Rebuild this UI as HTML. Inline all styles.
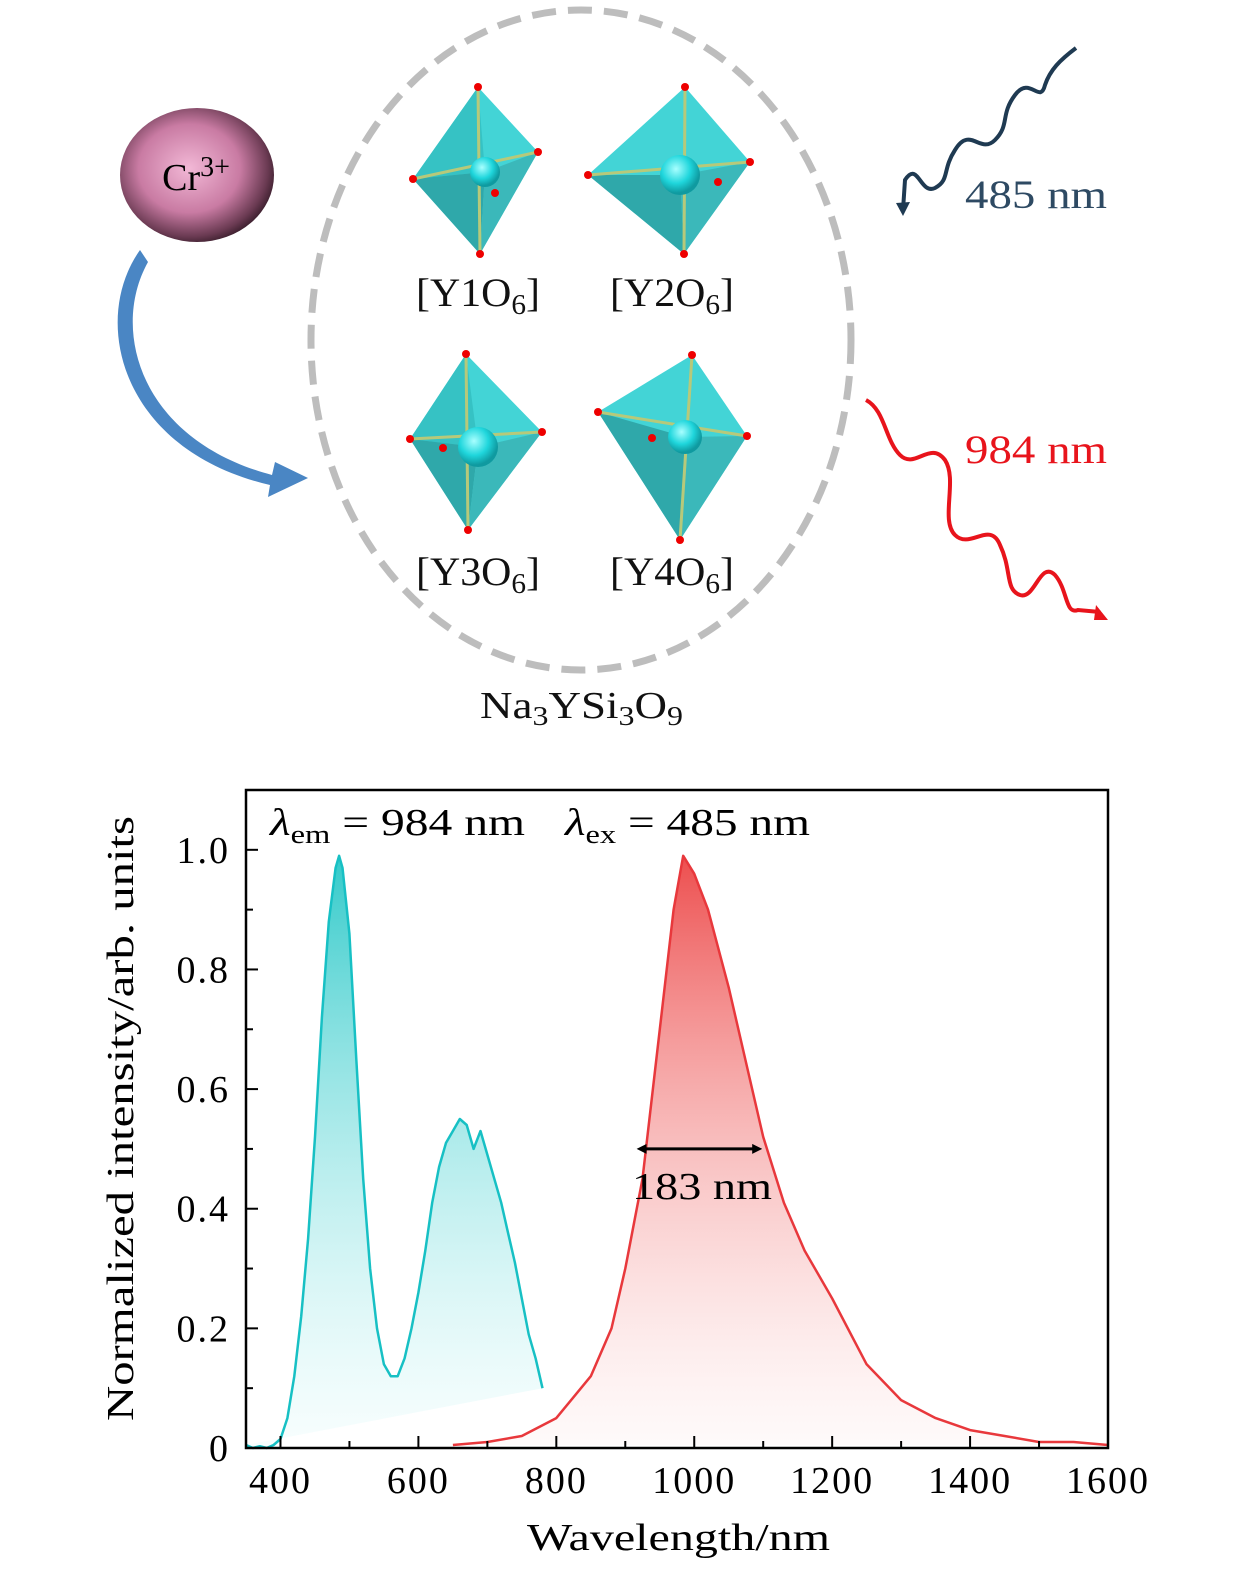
<!DOCTYPE html>
<html><head><meta charset="utf-8"><style>
body{margin:0;background:#fff;}
svg{display:block;font-family:"Liberation Serif",serif;}
</style></head><body>
<svg width="1260" height="1575" viewBox="0 0 1260 1575">
<defs>
<radialGradient id="pink" cx="0.45" cy="0.45" r="0.6">
<stop offset="0" stop-color="#f2b8d6"/><stop offset="0.55" stop-color="#c97ba3"/><stop offset="0.85" stop-color="#6a3a52"/><stop offset="1" stop-color="#2a1520"/></radialGradient>
<radialGradient id="ball" cx="0.4" cy="0.35" r="0.6"><stop offset="0" stop-color="#a8ffff"/><stop offset="0.6" stop-color="#1fd6dc"/><stop offset="1" stop-color="#0f9aa0"/></radialGradient>
<linearGradient id="cyanFill" x1="0" y1="0" x2="0" y2="1"><stop offset="0" stop-color="#1cc4c4" stop-opacity="0.9"/><stop offset="1" stop-color="#e6fbfb" stop-opacity="0.3"/></linearGradient>
<linearGradient id="redFill" x1="0" y1="0" x2="0" y2="1"><stop offset="0" stop-color="#ec4545" stop-opacity="0.95"/><stop offset="1" stop-color="#fdeeee" stop-opacity="0.3"/></linearGradient>
<marker id="ah" markerWidth="10" markerHeight="10" refX="5" refY="5" orient="auto-start-reverse" markerUnits="userSpaceOnUse"><path d="M0,0 L10,5 L0,10 z" fill="#000"/></marker>
</defs>

<g>
<ellipse cx="581" cy="340" rx="270" ry="330" fill="none" stroke="#bdbdbd" stroke-width="7" stroke-dasharray="24 12"/>
<ellipse cx="197" cy="175" rx="77" ry="67" fill="url(#pink)"/>
<text x="196" y="190" font-size="38" text-anchor="middle">Cr<tspan dy="-14" font-size="28">3+</tspan></text>
<path d="M140,250 C90,320 120,450 270,485 L268,497 L308,478 L275,462 L272,475 C140,440 110,330 148,262 Z" fill="#4a86c4"/>
<g>
<g><polygon points="478,87 413,179 480,254 538,152" fill="#43d4d6"/><polygon points="478,87 413,179 485,172" fill="#36c2c4"/><polygon points="413,179 480,254 485,172" fill="#2fa8aa"/><polygon points="480,254 538,152 485,172" fill="#3bb8ba"/>
<g stroke="#b7c97a" stroke-width="3"><line x1="478" y1="87" x2="480" y2="254"/><line x1="413" y1="179" x2="538" y2="152"/></g><circle cx="485" cy="172" r="15" fill="url(#ball)"/>
<g fill="#e00"><circle cx="478" cy="87" r="4"/><circle cx="413" cy="179" r="4"/><circle cx="480" cy="254" r="4"/><circle cx="538" cy="152" r="4"/><circle cx="495" cy="193" r="4"/></g></g>
<g><polygon points="685,87 588,175 684,254 750,162" fill="#43d4d6"/><polygon points="588,175 684,254 680,175" fill="#2fa8aa"/><polygon points="684,254 750,162 680,175" fill="#3bb8ba"/>
<g stroke="#b7c97a" stroke-width="3"><line x1="685" y1="87" x2="684" y2="254"/><line x1="588" y1="175" x2="750" y2="162"/></g><circle cx="680" cy="175" r="20" fill="url(#ball)"/>
<g fill="#e00"><circle cx="685" cy="87" r="4"/><circle cx="588" cy="175" r="4"/><circle cx="684" cy="254" r="4"/><circle cx="750" cy="162" r="4"/><circle cx="718" cy="182" r="4"/></g></g>
<g><polygon points="466,354 410,439 468,530 542,432" fill="#43d4d6"/><polygon points="466,354 410,439 478,447" fill="#36c2c4"/><polygon points="410,439 468,530 478,447" fill="#2fa8aa"/><polygon points="468,530 542,432 478,447" fill="#3bb8ba"/>
<g stroke="#b7c97a" stroke-width="3"><line x1="466" y1="354" x2="468" y2="530"/><line x1="410" y1="439" x2="542" y2="432"/></g><circle cx="478" cy="447" r="20" fill="url(#ball)"/>
<g fill="#e00"><circle cx="466" cy="354" r="4"/><circle cx="410" cy="439" r="4"/><circle cx="468" cy="530" r="4"/><circle cx="542" cy="432" r="4"/><circle cx="443" cy="448" r="4"/></g></g>
<g><polygon points="692,355 598,412 680,540 747,436" fill="#43d4d6"/><polygon points="598,412 680,540 685,437" fill="#2fa8aa"/><polygon points="680,540 747,436 685,437" fill="#3bb8ba"/>
<g stroke="#b7c97a" stroke-width="3"><line x1="692" y1="355" x2="680" y2="540"/><line x1="598" y1="412" x2="747" y2="436"/></g><circle cx="685" cy="437" r="17" fill="url(#ball)"/>
<g fill="#e00"><circle cx="692" cy="355" r="4"/><circle cx="598" cy="412" r="4"/><circle cx="680" cy="540" r="4"/><circle cx="747" cy="436" r="4"/><circle cx="652" cy="438" r="4"/></g></g>
</g>
<g font-size="40" fill="#111">
<text x="416" y="306" textLength="124" lengthAdjust="spacingAndGlyphs">[Y1O<tspan font-size="28" dy="8">6</tspan><tspan dy="-8">]</tspan></text>
<text x="610" y="306" textLength="124" lengthAdjust="spacingAndGlyphs">[Y2O<tspan font-size="28" dy="8">6</tspan><tspan dy="-8">]</tspan></text>
<text x="416" y="585" textLength="124" lengthAdjust="spacingAndGlyphs">[Y3O<tspan font-size="28" dy="8">6</tspan><tspan dy="-8">]</tspan></text>
<text x="610" y="585" textLength="124" lengthAdjust="spacingAndGlyphs">[Y4O<tspan font-size="28" dy="8">6</tspan><tspan dy="-8">]</tspan></text>
<text x="480" y="718" font-size="38" textLength="203" lengthAdjust="spacingAndGlyphs">Na<tspan font-size="27" dy="7">3</tspan><tspan dy="-7">YSi</tspan><tspan font-size="27" dy="7">3</tspan><tspan dy="-7">O</tspan><tspan font-size="27" dy="7">9</tspan></text>
</g>
<path d="M1076,48 C1060,60 1050,70 1045,85 C1040,105 1030,75 1015,95 C1000,115 1010,125 995,140 C980,155 970,125 955,150 C942,170 950,180 935,188 C920,195 918,160 905,180 L903,210" fill="none" stroke="#1f3a52" stroke-width="4"/>
<path d="M896,203 L903,216 L910,202 Z" fill="#1f3a52"/>
<text x="965" y="208" font-size="40" textLength="142" lengthAdjust="spacingAndGlyphs" fill="#2e4a63">485 nm</text>
<path d="M866,400 C885,410 885,440 900,455 C915,470 930,440 945,460 C958,480 940,520 955,535 C970,550 990,520 1000,545 C1012,570 1005,590 1020,595 C1035,600 1040,560 1055,575 C1068,590 1065,615 1078,610 L1100,612" fill="none" stroke="#e8141c" stroke-width="4"/>
<path d="M1096,605 L1108,620 L1094,620 Z" fill="#e8141c"/>
<text x="965" y="463" font-size="40" textLength="142" lengthAdjust="spacingAndGlyphs" fill="#e8141c">984 nm</text>
</g>

<g id="chart"></g>
</svg>
<script>
const exWl=[350,360,370,380,390,400,410,420,430,440,450,460,470,480,485,490,500,510,520,530,540,550,560,570,580,590,600,610,620,630,640,650,660,670,680,690,700,710,720,730,740,750,760,770,780];
const exVal=[0.005,0.0,0.003,0.0,0.005,0.015,0.05,0.12,0.22,0.35,0.52,0.72,0.88,0.97,0.99,0.97,0.86,0.65,0.45,0.30,0.20,0.14,0.12,0.12,0.15,0.20,0.26,0.33,0.41,0.47,0.51,0.53,0.55,0.54,0.50,0.53,0.49,0.45,0.41,0.36,0.31,0.25,0.19,0.15,0.10];
const emWl=[650,700,750,800,850,880,900,925,950,970,984,1000,1020,1050,1080,1100,1130,1160,1200,1250,1300,1350,1400,1450,1500,1550,1600];
const emVal=[0.005,0.01,0.02,0.05,0.12,0.2,0.3,0.45,0.7,0.9,0.99,0.96,0.9,0.77,0.62,0.52,0.41,0.33,0.25,0.14,0.08,0.05,0.03,0.02,0.01,0.01,0.005];
const xTicks=[400,600,800,1000,1200,1400,1600];
const yTicks=[0,0.2,0.4,0.6,0.8,1.0];
const yTickLabels=["0","0.2","0.4","0.6","0.8","1.0"];
const L=246,R=1108,T=790,B=1448;
const X=w=>L+(w-350)/(1600-350)*(R-L);
const Y=v=>B-v/1.1*(B-T);
const NS='http://www.w3.org/2000/svg';
const g=document.getElementById('chart');
function mk(tag,attrs,parent){const e=document.createElementNS(NS,tag);for(const k in attrs)e.setAttribute(k,attrs[k]);(parent||g).appendChild(e);return e;}
function series(wl,val,fill,stroke,name){
 const pts=wl.map((w,i)=>X(w).toFixed(1)+','+Y(val[i]).toFixed(1)).join(' ');
 const f=mk('polygon',{points:pts,fill:fill});
 
 
 const l=mk('polyline',{points:pts,fill:'none',stroke:stroke,'stroke-width':2.5,'stroke-linejoin':'round'});
 
 
}
series(exWl,exVal,'url(#cyanFill)','#17c0c4','excitation-spectrum');
series(emWl,emVal,'url(#redFill)','#e8383c','emission-spectrum');
const frame=mk('rect',{x:L,y:T,width:R-L,height:B-T,fill:'none',stroke:'#000','stroke-width':2.5});


for(let w=400;w<=1600;w+=100){const big=(w%200===0);mk('line',{x1:X(w),x2:X(w),y1:B,y2:B-(big?12:7),stroke:'#000','stroke-width':2});}
xTicks.forEach(w=>{const t=mk('text',{x:X(w),y:B+45,'font-size':38,'text-anchor':'middle','letter-spacing':2});t.textContent=w;
 
 });
for(let v=0.1;v<1.05;v+=0.1){const big=Math.round(v*10)%2===0;mk('line',{x1:L,x2:L+(big?12:7),y1:Y(v),y2:Y(v),stroke:'#000','stroke-width':2});}
yTicks.forEach((v,i)=>{const t=mk('text',{x:L-16,y:Y(v)+13,'font-size':38,'text-anchor':'end','letter-spacing':2});t.textContent=yTickLabels[i];
 
 });
const xt=mk('text',{x:527,y:1550,'font-size':38,textLength:303,lengthAdjust:'spacingAndGlyphs'});xt.textContent='Wavelength/nm';


const yt=mk('text',{x:0,y:0,'font-size':38,textLength:605,lengthAdjust:'spacingAndGlyphs',transform:'translate(133,1421) rotate(-90)'});yt.textContent='Normalized intensity/arb. units';


const a1=mk('text',{x:270,y:835,'font-size':38,textLength:255,lengthAdjust:'spacingAndGlyphs'});a1.innerHTML='<tspan font-style="italic">λ</tspan><tspan font-size="26" dy="8">em</tspan><tspan dy="-8"> = 984 nm</tspan>';


const a2=mk('text',{x:565,y:835,'font-size':38,textLength:245,lengthAdjust:'spacingAndGlyphs'});a2.innerHTML='<tspan font-style="italic">λ</tspan><tspan font-size="26" dy="8">ex</tspan><tspan dy="-8"> = 485 nm</tspan>';


const fw=mk('line',{x1:X(915)+6,x2:X(1100)-6,y1:Y(0.5),y2:Y(0.5),stroke:'#000','stroke-width':3,'marker-start':'url(#ah)','marker-end':'url(#ah)'});


const ft=mk('text',{x:632,y:1199,'font-size':38,textLength:140,lengthAdjust:'spacingAndGlyphs'});ft.textContent='183 nm';


</script>
</body></html>
